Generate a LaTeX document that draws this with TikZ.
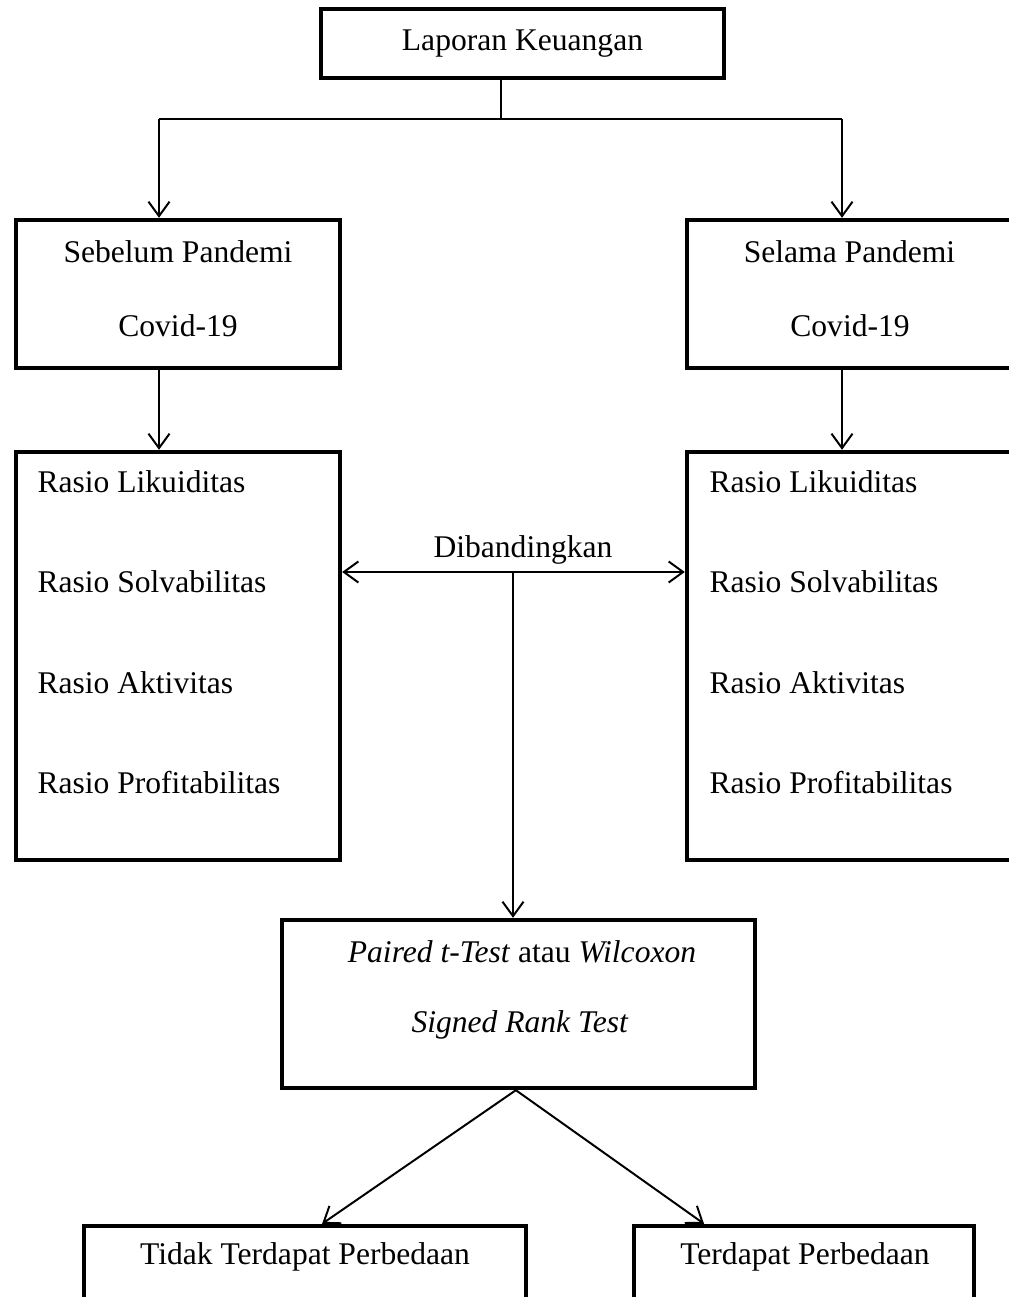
\documentclass[tikz,border=0pt]{standalone}
\usepackage{fontspec}
\setmainfont{Liberation Serif}
\usetikzlibrary{arrows.meta}

\begin{document}
\begin{tikzpicture}[x=0.38pt,y=-0.38pt,font=\fontsize{12}{14}\selectfont,
  box/.style={draw,rectangle,line width=1.7pt},
  garis/.style={line width=0.75pt},
  arr/.style={garis,-{Straight Barb[length=5.5pt,width=8pt]}},
  teks/.style={inner sep=0pt}]
\useasboundingbox (0,0) rectangle (1008,1297);
\node[box,minimum width=153.1pt,minimum height=26.2pt] (LK) at (522.5,43.5) {Laporan Keuangan};
\node[box,minimum width=123.1pt,minimum height=56.2pt] (SB) at (178,294) {};
\node[box,minimum width=123.1pt,minimum height=56.2pt] (SL) at (849,294) {};
\node[box,minimum width=123.1pt,minimum height=155pt] (RB) at (178,656) {};
\node[box,minimum width=123.1pt,minimum height=155pt] (RL) at (849,656) {};
\node[box,minimum width=179.7pt,minimum height=63.8pt] (UJ) at (518.5,1004) {};
\node[box,minimum width=168pt,minimum height=60.8pt] (TT) at (305,1306) {};
\node[box,minimum width=129.2pt,minimum height=60.8pt] (TD) at (804,1306) {};
% teks dalam kotak
\node[teks] (SB1) at (178,252) {Sebelum Pandemi};
\node[teks] (SB2) at (178,326) {Covid-19};
\node[teks] (SL1) at (849.5,252) {Selama Pandemi};
\node[teks] (SL2) at (850,326) {Covid-19};
\node[teks,anchor=west] (RB1) at (37,482) {Rasio Likuiditas};
\node[teks,anchor=west] (RB2) at (37,582) {Rasio Solvabilitas};
\node[teks,anchor=west] (RB3) at (37,683) {Rasio Aktivitas};
\node[teks,anchor=west] (RB4) at (37,783) {Rasio Profitabilitas};
\node[teks,anchor=west] (RL1) at (709,482) {Rasio Likuiditas};
\node[teks,anchor=west] (RL2) at (709,582) {Rasio Solvabilitas};
\node[teks,anchor=west] (RL3) at (709,683) {Rasio Aktivitas};
\node[teks,anchor=west] (RL4) at (709,783) {Rasio Profitabilitas};
\node[teks] (UJ1) at (522,952) {\textit{Paired t-Test} atau \textit{Wilcoxon}};
\node[teks] (UJ2) at (520,1025) {\textit{Signed Rank Test}};
\node[teks] (TT1) at (305,1257) {Tidak Terdapat Perbedaan};
\node[teks] (TD1) at (805,1257) {Terdapat Perbedaan};
\node[teks] (DB) at (523,550) {Dibandingkan};
% garis penghubung
\coordinate (C) at (501,119);
\coordinate (CB) at (159,119);
\coordinate (CL) at (842,119);
\coordinate (M) at (513,572);
\draw[garis] (C |- LK.south) -- (C);
\draw[garis] (CB) -- (CL);
\draw[arr] (CB) -- (CB |- SB.north);
\draw[arr] (CL) -- (CL |- SL.north);
\draw[arr] (CB |- SB.south) -- (CB |- RB.north);
\draw[arr] (CL |- SL.south) -- (CL |- RL.north);
\draw[garis,{Straight Barb[length=5.5pt,width=8pt]}-{Straight Barb[length=5.5pt,width=8pt]}] (M -| RB.east) -- (M -| RL.west);
\draw[arr] (M) -- (M |- UJ.north);
\draw[arr] ([xshift=-1pt]UJ.south) -- ([xshift=6.5pt]TT.north);
\draw[arr] ([xshift=-1pt]UJ.south) -- ([xshift=-38pt]TD.north);
\end{tikzpicture}
\end{document}
